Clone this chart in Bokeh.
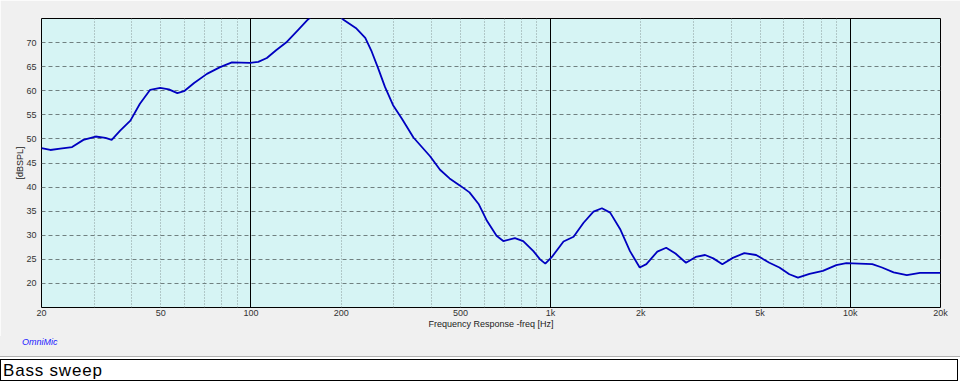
from bokeh.plotting import figure
from bokeh.models import FixedTicker, Grid, Div, Range1d
from bokeh.layouts import column
from bokeh.embed import file_html
from bokeh.resources import INLINE

freq = [20, 21.4, 23.1, 25.3, 27.6, 30.3, 32.7, 34.3, 36.6, 39.6, 42.6, 46.1, 49.8, 53.2,
        56.8, 59.8, 64.6, 71.3, 78.9, 86.4, 99.4, 105.8, 113, 121.3, 131, 143, 155, 166,
        178, 190, 203, 225, 240.7, 253, 266, 280, 298, 319, 348.5, 396, 427.5, 460, 499,
        536, 575, 613, 660, 695, 760, 810, 876, 922, 960, 1010, 1104, 1193, 1288, 1390,
        1483, 1580, 1705, 1840, 1983, 2087, 2270, 2430, 2610, 2830, 3050, 3277, 3490,
        3742, 4055, 4430, 4850, 5370, 5800, 6260, 6690, 7310, 8100, 8980, 9700, 10700,
        11840, 12760, 13950, 15440, 17080, 20000]
spl = [48.1, 47.7, 48.0, 48.3, 49.8, 50.5, 50.2, 49.8, 51.7, 53.8, 57.3, 60.2, 60.6, 60.3,
       59.5, 59.9, 61.6, 63.5, 64.9, 65.9, 65.8, 66.0, 66.8, 68.4, 70.0, 72.5, 74.8, 76.4,
       77.0, 76.5, 74.8, 72.9, 71.0, 68.1, 64.6, 60.8, 57.0, 54.2, 50.3, 46.4, 43.6, 41.8,
       40.3, 38.9, 36.5, 33.0, 29.9, 28.8, 29.4, 28.8, 26.7, 25.0, 24.1, 25.5, 28.7, 29.7,
       32.6, 34.9, 35.6, 34.7, 31.3, 26.7, 23.3, 24.0, 26.6, 27.4, 26.2, 24.3, 25.5, 25.9,
       25.2, 24.0, 25.3, 26.3, 25.9, 24.3, 23.3, 21.9, 21.2, 22.0, 22.6, 23.8, 24.2, 24.1,
       24.0, 23.3, 22.3, 21.7, 22.2, 22.2]

x_ticks = [20, 50, 100, 200, 500, 1000, 2000, 5000, 10000, 20000]
x_tick_labels = ["20", "50", "100", "200", "500", "1k", "2k", "5k", "10k", "20k"]
y_ticks = [20, 25, 30, 35, 40, 45, 50, 55, 60, 65, 70]
major_lines = [100, 1000, 10000]
minor_lines = [m * d for d in (10, 100, 1000) for m in range(2, 10)]
minor_lines = [v for v in minor_lines if 20 < v < 20000 and v not in major_lines]

FONT = "Liberation Sans"

p = figure(width=960, height=336, x_axis_type="log",
           x_range=Range1d(20, 20000), y_range=Range1d(15, 75),
           output_backend="svg", toolbar_location=None,
           min_border_left=41, min_border_right=20, min_border_top=18, min_border_bottom=29)
p.background_fill_color = "#d6f4f4"
p.border_fill_color = "#f0f0f0"
p.outline_line_color = "black"
p.outline_line_width = 1

p.xaxis.ticker = FixedTicker(ticks=x_ticks)
p.xaxis.major_label_overrides = {t: l for t, l in zip(x_ticks, x_tick_labels)}
p.yaxis.ticker = FixedTicker(ticks=y_ticks)
for ax in (p.xaxis, p.yaxis):
    ax.axis_line_color = None
    ax.major_tick_line_color = None
    ax.minor_tick_line_color = None
    ax.major_tick_out = 0
    ax.minor_tick_out = 0
    ax.major_tick_in = 0
    ax.minor_tick_in = 0
    ax.major_label_text_font = FONT
    ax.major_label_text_font_size = "9px"
    ax.major_label_text_color = "#333333"
    ax.axis_label_text_font = FONT
    ax.axis_label_text_font_size = "9px"
    ax.axis_label_text_font_style = "normal"
    ax.axis_label_text_color = "#222222"
p.xaxis.major_label_standoff = 0
p.yaxis.major_label_standoff = 5
p.xaxis.axis_label = "Frequency Response -freq [Hz]"
p.xaxis.axis_label_standoff = -2
p.yaxis.axis_label = "[dBSPL]"
p.yaxis.axis_label_standoff = -2

p.xgrid.ticker = FixedTicker(ticks=minor_lines)
p.xgrid.grid_line_color = "#8a9a9a"
p.xgrid.grid_line_dash = "1 2"
p.ygrid.ticker = FixedTicker(ticks=y_ticks)
p.ygrid.grid_line_color = "#708080"
p.ygrid.grid_line_dash = "4 3"

major_grid = Grid(dimension=0, ticker=FixedTicker(ticks=major_lines),
                  grid_line_color="black", grid_line_width=1)
p.add_layout(major_grid)

p.line(freq, spl, line_color="#0000c0", line_width=1.8)

brand = Div(text="OmniMic", width=960, height=21, margin=(0, 0, 0, 0),
            styles={"background-color": "#f0f0f0", "font-family": "Liberation Sans",
                    "font-size": "9px", "font-style": "italic", "color": "#2020ff",
                    "padding-left": "22px", "line-height": "12px",
                    "border-bottom": "1px solid #b0b0b0", "box-sizing": "border-box"})

box = Div(text="Bass sweep", width=958, height=22, margin=(0, 0, 0, 0),
          styles={"border": "1px solid black", "background-color": "white",
                  "font-family": "Liberation Sans", "font-size": "17px",
                  "letter-spacing": "0.8px", "padding-left": "2px", "line-height": "22px",
                  "margin-top": "2px"})

layout = column(p, brand, box, spacing=0)
open("out.html", "w").write(file_html(layout, INLINE))
